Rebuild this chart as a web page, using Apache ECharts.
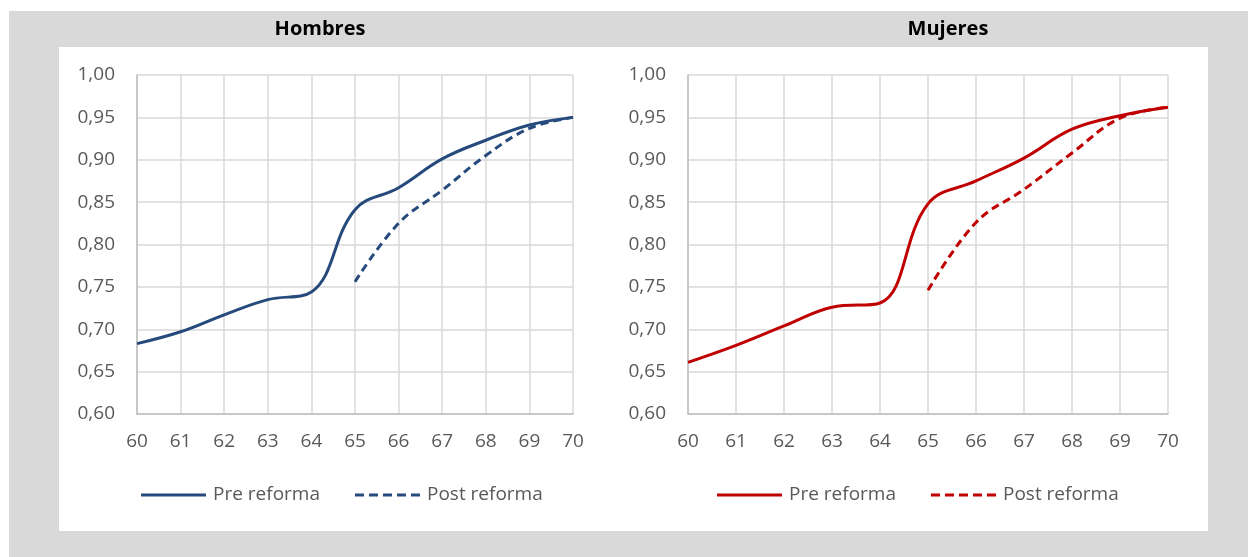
<!DOCTYPE html>
<html>
<head>
<meta charset="utf-8">
<script src="https://cdn.jsdelivr.net/npm/echarts@6/dist/echarts.min.js"></script>
<style>
  html, body { margin: 0; padding: 0; background: #ffffff; }
  #bgGray { position: absolute; left: 9px; top: 11px; width: 1239px; height: 546px; background: #d9d9d9; }
  #bgWhite { position: absolute; left: 59px; top: 47px; width: 1149px; height: 484px; background: #ffffff; }
  #chart { position: absolute; left: 0; top: 0; width: 1248px; height: 557px; }
</style>
</head>
<body>
<div id="bgGray"></div>
<div id="bgWhite"></div>
<div id="chart"></div>
<script>
// ---- data ----
const ages = [60, 61, 62, 63, 64, 65, 66, 67, 68, 69, 70];
const hombresPre  = [0.683, 0.697, 0.717, 0.735, 0.744, 0.841, 0.867, 0.901, 0.923, 0.941, 0.950];
const hombresPost = [null, null, null, null, null, 0.756, 0.825, 0.864, 0.905, 0.937, 0.950];
const mujeresPre  = [0.661, 0.681, 0.704, 0.726, 0.731, 0.848, 0.875, 0.902, 0.936, 0.952, 0.962];
const mujeresPost = [null, null, null, null, null, 0.746, 0.826, 0.865, 0.908, 0.949, 0.962];
const panelTitles = ['Hombres', 'Mujeres'];
const seriesNames = ['Pre reforma', 'Post reforma'];
const yTickLabels = ['0,60', '0,65', '0,70', '0,75', '0,80', '0,85', '0,90', '0,95', '1,00'];
const xTickLabels = ['60', '61', '62', '63', '64', '65', '66', '67', '68', '69', '70'];

const FONT = '"Open Sans", "Noto Sans", sans-serif';
const BLUE = '#264a7c';
const RED = '#c00000';
const SOLID_ICON = 'path://M0 0H65V3H0Z';
const DASH_ICON = 'path://M0 0H9V3H0Z M14 0H23V3H14Z M28 0H37V3H28Z M42 0H51V3H42Z M56 0H65V3H56Z';

function pairs(vals) {
  const out = [];
  ages.forEach((a, i) => { if (vals[i] !== null) out.push([a, vals[i]]); });
  return out;
}

const grids = [
  { left: 137, right: 1248 - 573, top: 75, bottom: 557 - 414 },
  { left: 688, right: 1248 - 1168, top: 75, bottom: 557 - 414 }
];

function xAxis(idx) {
  return {
    type: 'value', gridIndex: idx, min: 60, max: 70, interval: 1,
    axisLine: { show: true, lineStyle: { color: '#bfbfbf', width: 1.5 } },
    axisTick: { show: false },
    splitLine: { show: true, lineStyle: { color: '#d9d9d9', width: 1.5 } },
    axisLabel: {
      color: '#595959', fontFamily: FONT, fontSize: 19, margin: 18,
      formatter: v => xTickLabels[Math.round(v - 60)]
    }
  };
}
function yAxis(idx) {
  return {
    type: 'value', gridIndex: idx, min: 0.6, max: 1.0, interval: 0.05,
    axisLine: { show: true, lineStyle: { color: '#bfbfbf', width: 1.5 } },
    axisTick: { show: false },
    splitLine: { show: true, lineStyle: { color: '#d9d9d9', width: 1.5 } },
    axisLabel: {
      color: '#595959', fontFamily: FONT, fontSize: 19, margin: 22,
      formatter: v => yTickLabels[Math.round((v - 0.6) / 0.05)]
    }
  };
}

function line(name, vals, idx, color, dashed) {
  return {
    name: name, type: 'line', xAxisIndex: idx, yAxisIndex: idx,
    data: pairs(vals), smooth: 0.4, symbol: 'none', showSymbol: false,
    lineStyle: { color: color, width: 3, type: dashed ? [8, 5] : 'solid' },
    itemStyle: { color: color },
    emphasis: { disabled: true }, animation: false
  };
}

function legend(names, left) {
  return {
    data: [
      { name: names[0], icon: SOLID_ICON },
      { name: names[1], icon: DASH_ICON }
    ],
    left: left, top: 479, itemWidth: 65, itemHeight: 3, itemGap: 35,
    symbolKeepAspect: false,
    formatter: n => n.split('|')[0],
    textStyle: { color: '#595959', fontFamily: FONT, fontSize: 19, padding: [0, 0, 0, 2], lineHeight: 22 },
    selectedMode: false
  };
}

const chart = echarts.init(document.getElementById('chart'), null, { renderer: 'canvas' });
chart.setOption({
  animation: false,
  backgroundColor: 'transparent',
  grid: grids,
  xAxis: [xAxis(0), xAxis(1)],
  yAxis: [yAxis(0), yAxis(1)],
  legend: [
    legend([seriesNames[0] + '|H', seriesNames[1] + '|H'], 136),
    legend([seriesNames[0] + '|M', seriesNames[1] + '|M'], 712)
  ],
  graphic: [
    { type: 'text', x: 320, y: 29, style: { text: panelTitles[0], align: 'center', verticalAlign: 'middle', font: 'bold 20px ' + FONT, fill: '#000000' } },
    { type: 'text', x: 948, y: 29, style: { text: panelTitles[1], align: 'center', verticalAlign: 'middle', font: 'bold 20px ' + FONT, fill: '#000000' } }
  ],
  series: [
    line(seriesNames[0] + '|H', hombresPre, 0, BLUE, false),
    line(seriesNames[1] + '|H', hombresPost, 0, BLUE, true),
    line(seriesNames[0] + '|M', mujeresPre, 1, RED, false),
    line(seriesNames[1] + '|M', mujeresPost, 1, RED, true)
  ]
});
</script>
</body>
</html>
